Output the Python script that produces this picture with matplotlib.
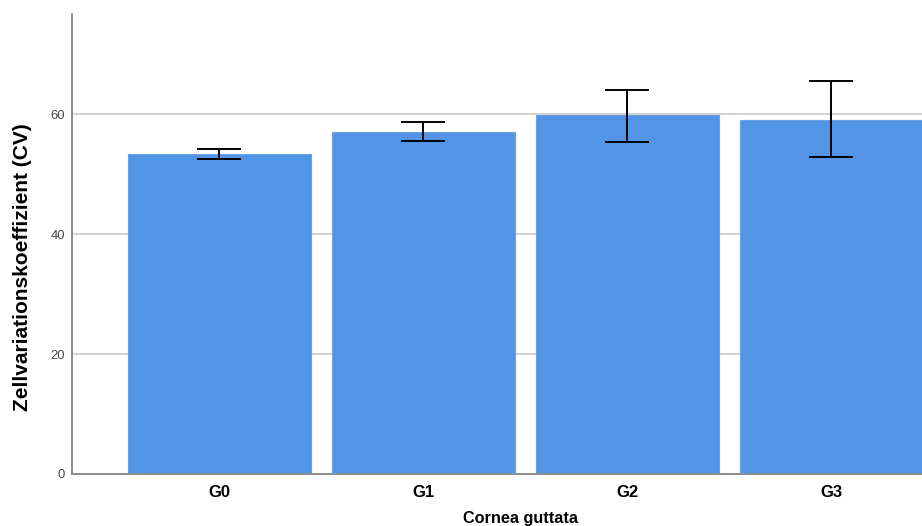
import matplotlib
matplotlib.use('Agg')
import matplotlib.pyplot as plt
import numpy as np

# Mean CV per guttata grade with error bar limits
groups = ['G0', 'G1', 'G2', 'G3']
cv_mean = [53.3, 57.1, 59.8, 59.0]
err_low = [52.6, 55.5, 55.4, 52.8]
err_high = [54.2, 58.7, 64.1, 65.5]

plt.rcParams['font.family'] = ['Liberation Sans', 'DejaVu Sans']

fig = plt.figure(figsize=(9.22, 5.26), dpi=100)
ax = fig.add_axes([72 / 922, 52 / 526, 850 / 922, 460 / 526])

x = np.arange(len(groups))
mean = np.array(cv_mean)
yerr = [mean - np.array(err_low), np.array(err_high) - mean]

ax.bar(x, mean, width=0.897, color='#5294e5', edgecolor='#6aa3ea',
       linewidth=0.8, zorder=2)
ax.errorbar(x, mean, yerr=yerr, fmt='none', ecolor='black', elinewidth=1.4,
            capsize=15.5, capthick=1.4, zorder=3)

ax.set_xlim(-0.723, 3.444)
ax.set_ylim(0, 76.7)
ax.set_yticks([0, 20, 40, 60])
ax.set_xticks(x)
ax.set_xticklabels(groups, fontweight='bold', fontsize=12)
ax.tick_params(axis='y', length=0, labelsize=9.4, labelcolor='#444444', pad=5)
ax.tick_params(axis='x', length=0, pad=8)

ax.yaxis.grid(True, color='#d2d2d2', linewidth=1.4, zorder=0)
ax.set_axisbelow(True)

for side in ['top', 'right']:
    ax.spines[side].set_visible(False)
for side in ['left', 'bottom']:
    ax.spines[side].set_color('#8c8c8c')
    ax.spines[side].set_linewidth(1.4)

ax.set_ylabel('Zellvariationskoeffizient (CV)', fontweight='bold', fontsize=15)
ax.yaxis.set_label_coords(-0.047, 0.45)
ax.set_xlabel('Cornea guttata', fontweight='bold', fontsize=11.7)
ax.xaxis.set_label_coords(0.5276, -0.081)

fig.savefig('out.png', dpi=100)
